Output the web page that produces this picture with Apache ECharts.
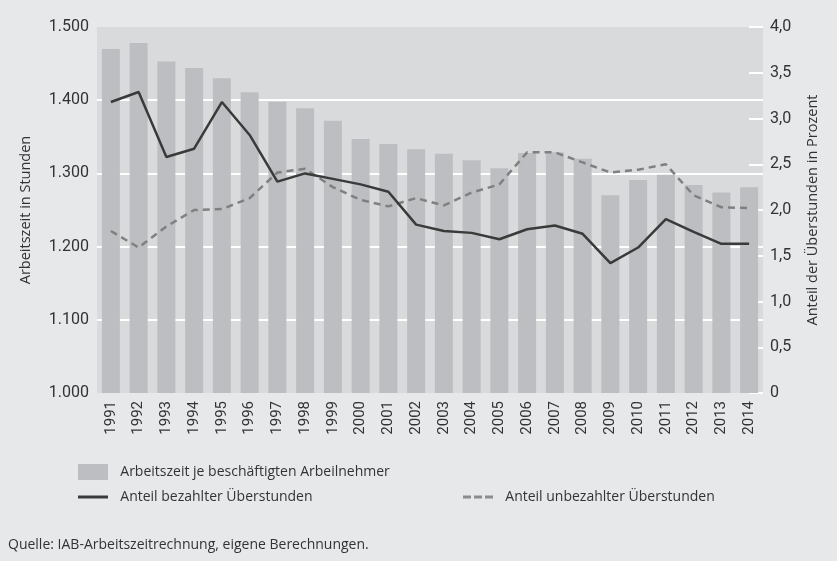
<!DOCTYPE html>
<html>
<head>
<meta charset="utf-8">
<script src="https://cdn.jsdelivr.net/npm/echarts@6/dist/echarts.min.js"></script>
<style>
html,body{margin:0;padding:0;background:#e7e8ea;}
#chart{width:837px;height:561px;}
</style>
</head>
<body>
<div id="chart"></div>
<script>
const years = ['1991','1992','1993','1994','1995','1996','1997','1998','1999','2000','2001','2002','2003','2004','2005','2006','2007','2008','2009','2010','2011','2012','2013','2014'];
const arbeitszeit = [1470,1478,1453,1444,1430,1411,1398,1389,1372,1347,1340,1333,1327,1318,1307,1328,1329,1320,1270,1291,1298,1284,1274,1281];
const bezahlt = [3.18,3.29,2.58,2.67,3.18,2.82,2.31,2.40,2.34,2.28,2.20,1.84,1.77,1.75,1.68,1.79,1.83,1.74,1.42,1.59,1.90,1.76,1.63,1.63];
const unbezahlt = [1.77,1.59,1.82,2.00,2.01,2.13,2.41,2.45,2.25,2.11,2.04,2.13,2.05,2.19,2.28,2.63,2.63,2.52,2.41,2.44,2.50,2.16,2.03,2.02];
const leftTicks = {min:1000, max:1500, interval:100};
const rightTicks = {min:0, max:4, interval:0.5};
const names = ['Arbeitszeit je beschäftigten Arbeilnehmer','Anteil bezahlter Überstunden','Anteil unbezahlter Überstunden'];
const sourceText = 'Quelle: IAB-Arbeitszeitrechnung, eigene Berechnungen.';

const txt = '#333333';
const labelFont = 'Roboto, sans-serif';
const textFont = '"Open Sans", sans-serif';
const legendText = {fontFamily:textFont, fontSize:14, color:txt};
const pad = n => '  ' + n;

const chart = echarts.init(document.getElementById('chart'), null, {renderer:'canvas'});
chart.setOption({
  backgroundColor:'#e7e8ea',
  animation:false,
  textStyle:{fontFamily:textFont, color:txt},
  grid:{left:97, right:74, top:27, bottom:168, show:true, backgroundColor:'#d9dadc', borderWidth:0, containLabel:false},
  legend:[
    {data:[{name:names[0], icon:'rect'}], left:78, top:464, padding:0, itemWidth:30, itemHeight:16, formatter:pad, textStyle:legendText, selectedMode:false},
    {data:[{name:names[1], icon:'path://M0,0h30v3h-30z', itemStyle:{color:'#3a3a3a'}}], left:78, top:490, padding:0, itemWidth:30, itemHeight:3, formatter:pad, textStyle:legendText, selectedMode:false},
    {data:[{name:names[2], icon:'path://M0,0h8v3h-8z M11,0h8v3h-8z M22,0h8v3h-8z', itemStyle:{color:'#8c8c8c'}}], left:463, top:490, padding:0, itemWidth:30, itemHeight:3, formatter:pad, textStyle:legendText, selectedMode:false}
  ],
  graphic:[{type:'text', left:8, top:538, style:{text:sourceText, font:'14px "Open Sans", sans-serif', fill:txt}}],
  xAxis:{
    type:'category', data:years, boundaryGap:true,
    axisLine:{show:false}, axisTick:{show:false},
    axisLabel:{rotate:90, margin:8, fontFamily:labelFont, fontSize:15, color:txt, interval:0}
  },
  yAxis:[
    {type:'value', min:leftTicks.min, max:leftTicks.max, interval:leftTicks.interval, position:'left',
     name:'Arbeitszeit in Stunden', nameLocation:'middle', nameRotate:90, nameGap:64,
     nameTextStyle:{fontFamily:textFont, fontSize:14.5, color:txt},
     axisLine:{show:false}, axisTick:{show:false},
     axisLabel:{margin:8, fontFamily:labelFont, fontSize:16, color:txt, formatter:v=>(v/1000).toFixed(3)},
     splitLine:{show:true, showMinLine:false, showMaxLine:false, lineStyle:{color:'#ffffff', width:2}}},
    {type:'value', min:rightTicks.min, max:rightTicks.max, interval:rightTicks.interval, position:'right',
     name:'Anteil der Überstunden in Prozent', nameLocation:'middle', nameRotate:90, nameGap:42,
     nameTextStyle:{fontFamily:textFont, fontSize:14.5, color:txt},
     axisLine:{show:false},
     axisTick:{show:true, inside:true, length:14, lineStyle:{color:'#ffffff', width:2}},
     axisLabel:{margin:7, fontFamily:labelFont, fontSize:16, color:txt, formatter:v=>v===0?'0':v.toFixed(1).replace('.',',')},
     splitLine:{show:false}}
  ],
  series:[
    {name:names[0], type:'bar', data:arbeitszeit, yAxisIndex:0, barWidth:18, itemStyle:{color:'#bdbec1'}, z:2},
    {name:names[1], type:'line', data:bezahlt, yAxisIndex:1, symbol:'none', lineStyle:{color:'#3a3a3a', width:2.5}, itemStyle:{color:'#3a3a3a'}, z:4},
    {name:names[2], type:'line', data:unbezahlt, yAxisIndex:1, symbol:'none', lineStyle:{color:'#808080', width:2.5, type:[7,5]}, itemStyle:{color:'#808080'}, z:3}
  ]
});
</script>
</body>
</html>
